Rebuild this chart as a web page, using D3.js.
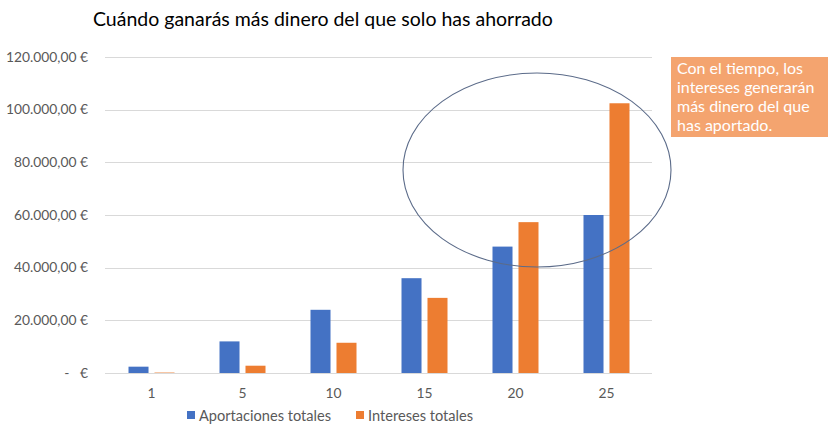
<!DOCTYPE html>
<html><head><meta charset="utf-8">
<script src="https://cdn.jsdelivr.net/npm/d3@7"></script>
<style>
html,body{margin:0;padding:0;background:#fff;}
svg{display:block;font-family:Lato,"Open Sans",sans-serif;}
</style></head>
<body>
<svg id="c" width="829" height="435"></svg>
<script>
const title = "Cuándo ganarás más dinero del que solo has ahorrado";
const categories = ["1", "5", "10", "15", "20", "25"];
const seriesNames = ["Aportaciones totales", "Intereses totales"];
const aportaciones = [2400, 12000, 24000, 36000, 48000, 60000];
const intereses = [168, 2768, 11481, 28531, 57284, 102430];
const yTicks = [0, 20000, 40000, 60000, 80000, 100000, 120000];
const yTickLabels = ["-   €", "20.000,00 €", "40.000,00 €", "60.000,00 €", "80.000,00 €", "100.000,00 €", "120.000,00 €"];
const noteLines = ["Con el tiempo, los", "intereses generarán", "más dinero del que", "has aportado."];
const colors = ["#4472C4", "#ED7D31"];

const seriesValues = [aportaciones, intereses];
const rows = categories.map((c, i) => ({cat: c, vals: seriesNames.map((s, j) => ({s, j, v: seriesValues[j][i]}))}));

const svg = d3.select("#c");
const L = 106, R = 652, T = 57, B = 373;

const x0 = d3.scaleBand().domain(categories).range([L, R]).paddingInner(0.4945).paddingOuter(0.2473);
const x1 = d3.scaleBand().domain(seriesNames).range([0, x0.bandwidth()]).paddingInner(0.23);
const y = d3.scaleLinear().domain([0, 120000]).range([B, T]);

// gridlines
svg.append("g").selectAll("line").data(yTicks).join("line")
  .attr("x1", L - 1).attr("x2", R).attr("y1", d => Math.round(y(d)) + 0.5).attr("y2", d => Math.round(y(d)) + 0.5)
  .attr("stroke", "#D9D9D9").attr("stroke-width", 1);

// y labels
svg.append("g").selectAll("text").data(yTicks).join("text")
  .attr("x", 88).attr("y", d => y(d) + 4.8)
  .attr("text-anchor", "end").attr("fill", "#595959").attr("font-size", 13.8)
  .style("white-space", "pre")
  .text((d, i) => yTickLabels[i]);

// bars
const g = svg.append("g").selectAll("g").data(rows).join("g")
  .attr("transform", d => `translate(${x0(d.cat)},0)`);
g.selectAll("rect").data(d => d.vals).join("rect")
  .attr("x", d => x1(d.s)).attr("width", x1.bandwidth())
  .attr("y", d => y(d.v)).attr("height", d => B - y(d.v))
  .attr("fill", d => colors[d.j]);

// x labels
svg.append("g").selectAll("text").data(categories).join("text")
  .attr("x", d => x0(d) + x0.bandwidth() / 2).attr("y", 398)
  .attr("text-anchor", "middle").attr("fill", "#595959").attr("font-size", 13.8)
  .text(d => d);

// title
svg.append("text").attr("x", 93).attr("y", 26).attr("font-size", 19.5).attr("fill", "#000")
  .text(title);

// legend
const legX = [187, 356];
const leg = svg.append("g").selectAll("g").data(seriesNames).join("g")
  .attr("transform", (d, i) => `translate(${legX[i]},410)`);
leg.append("rect").attr("width", 8).attr("height", 8).attr("y", 1).attr("fill", (d, i) => colors[i]);
leg.append("text").attr("x", 12).attr("y", 10.5).attr("font-size", 14.6).attr("fill", "#595959").text(d => d);

// ellipse
svg.append("ellipse").attr("cx", 537).attr("cy", 170).attr("rx", 134).attr("ry", 97)
  .attr("fill", "none").attr("stroke", "#5B6B89").attr("stroke-width", 1.1);

// note box
svg.append("rect").attr("x", 671).attr("y", 57).attr("width", 157).attr("height", 80).attr("fill", "#F4A46F");
svg.append("g").selectAll("text").data(noteLines).join("text")
  .attr("x", 677).attr("y", (d, i) => 74 + i * 19)
  .attr("font-size", 16).attr("fill", "#fff").text(d => d);
</script>
</body></html>
